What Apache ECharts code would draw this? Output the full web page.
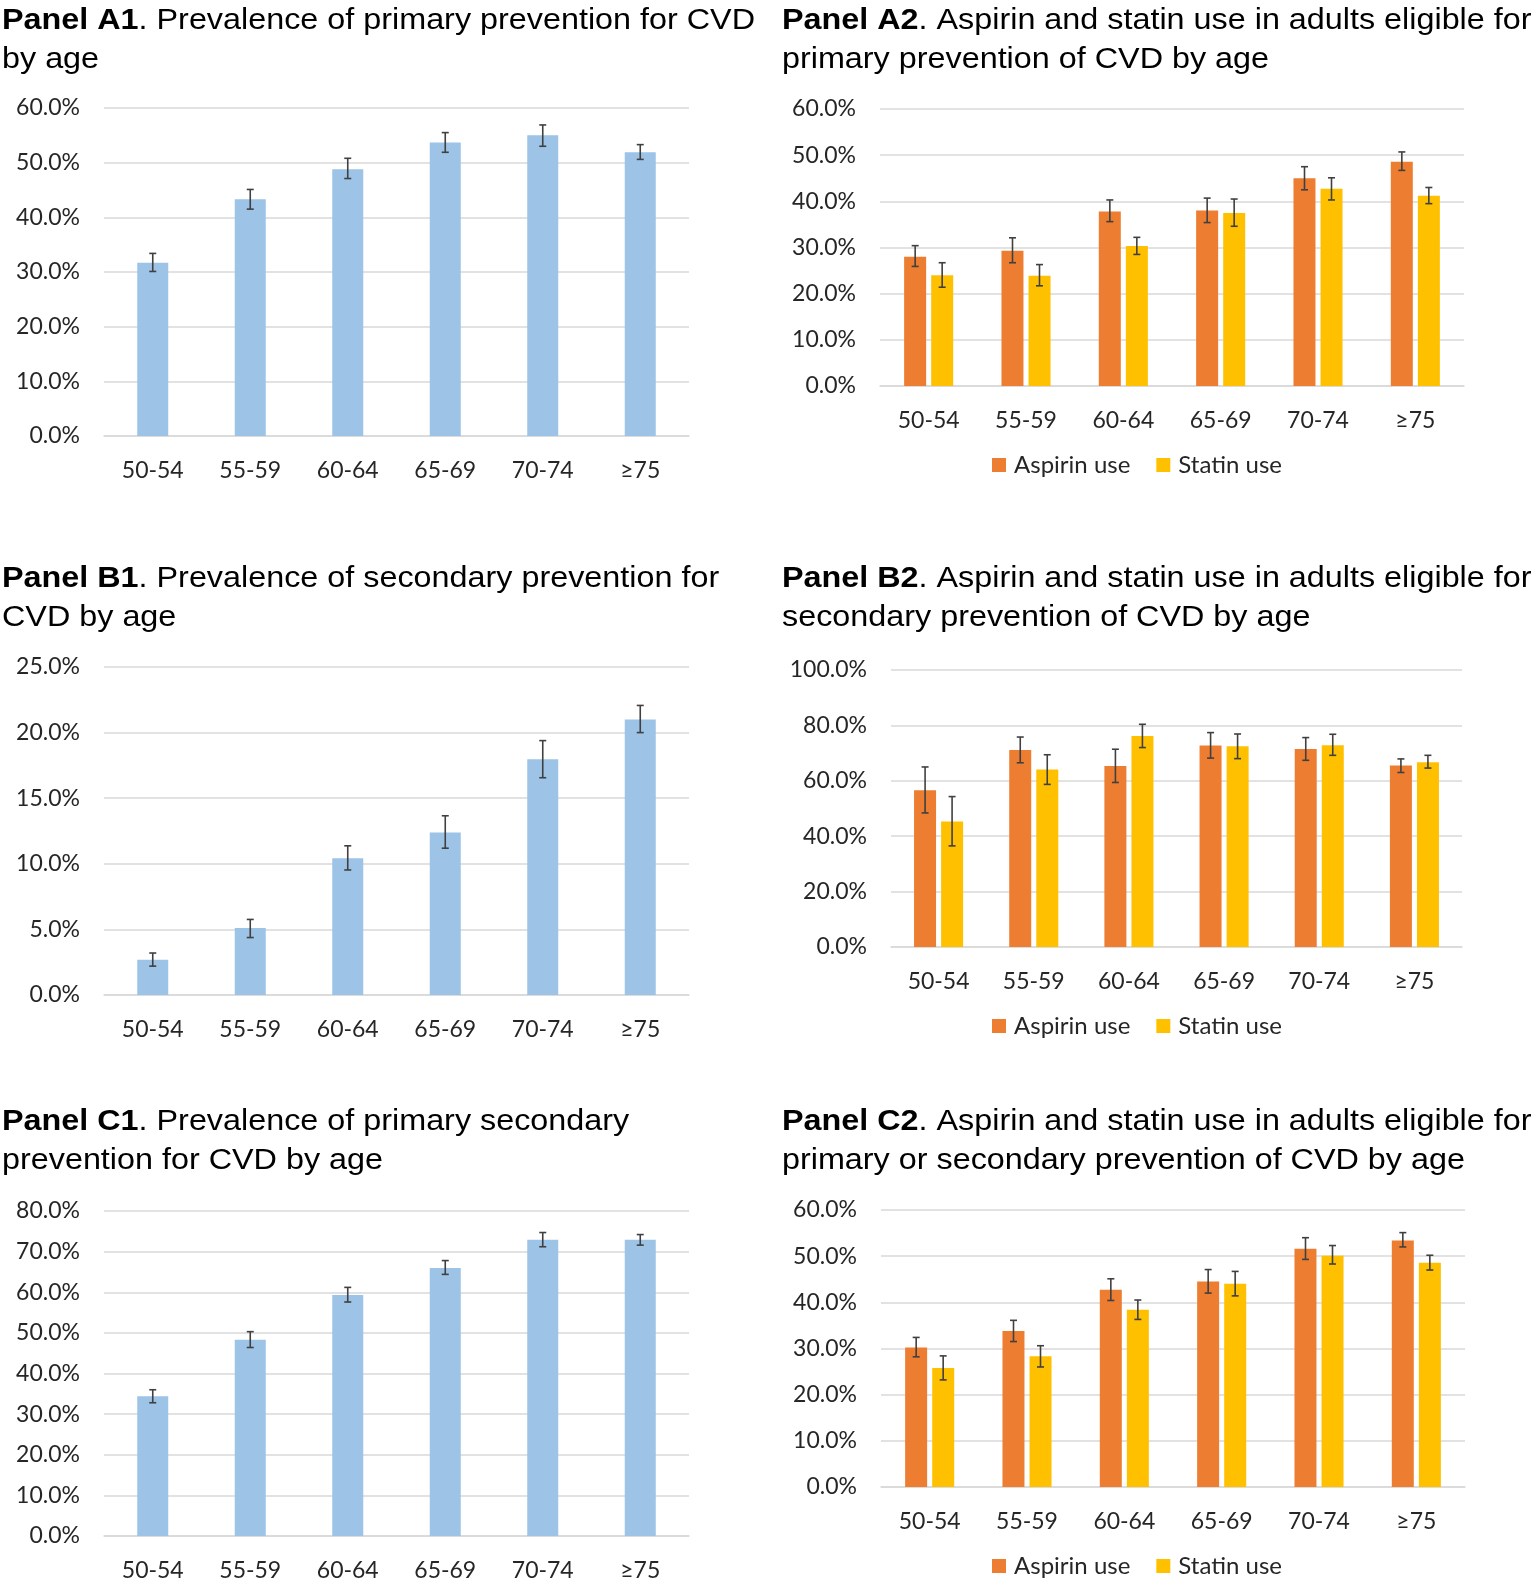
<!DOCTYPE html>
<html><head><meta charset="utf-8">
<script src="https://cdn.jsdelivr.net/npm/echarts@6/dist/echarts.min.js"></script>
<style>html,body{margin:0;padding:0;background:#fff}#c{width:1538px;height:1582px}</style>
</head><body><div id="c"></div>
<script>
const ages = ['50-54','55-59','60-64','65-69','70-74','≥75'];
// Panel A1
const a1Val = [31.7,43.3,48.8,53.7,55.0,51.9];
const a1Lo  = [30.1,41.5,47.1,51.9,53.0,50.6];
const a1Hi  = [33.4,45.1,50.8,55.5,56.9,53.3];
// Panel A2
const a2Asp = [28.0,29.3,37.8,38.0,45.0,48.6];
const a2AspLo = [25.9,26.7,35.6,35.4,42.5,46.7];
const a2AspHi = [30.4,32.1,40.3,40.7,47.5,50.7];
const a2Sta = [24.0,23.9,30.3,37.5,42.7,41.2];
const a2StaLo = [21.4,21.7,28.5,34.6,40.3,39.5];
const a2StaHi = [26.7,26.3,32.2,40.5,45.1,43.0];
// Panel B1
const b1Val = [2.68,5.1,10.42,12.39,17.97,21.0];
const b1Lo  = [2.2,4.38,9.53,11.19,16.56,20.0];
const b1Hi  = [3.2,5.76,11.37,13.66,19.39,22.07];
// Panel B2
const b2Asp = [56.6,71.1,65.3,72.7,71.5,65.5];
const b2AspLo = [48.4,66.5,59.4,68.2,67.4,63.0];
const b2AspHi = [65.0,75.8,71.4,77.4,75.6,67.9];
const b2Sta = [45.3,64.1,76.2,72.5,72.8,66.7];
const b2StaLo = [36.5,58.7,72.0,68.0,69.2,64.6];
const b2StaHi = [54.3,69.4,80.4,76.9,76.8,69.2];
// Panel C1
const c1Val = [34.4,48.3,59.3,66.0,72.9,72.9];
const c1Lo  = [32.8,46.4,57.6,64.4,71.2,71.6];
const c1Hi  = [36.0,50.3,61.2,67.8,74.7,74.2];
// Panel C2
const c2Asp = [30.2,33.8,42.7,44.5,51.6,53.4];
const c2AspLo = [28.2,31.5,40.4,42.0,49.3,52.0];
const c2AspHi = [32.4,36.1,45.1,47.1,54.0,55.1];
const c2Sta = [25.8,28.3,38.4,44.0,50.1,48.6];
const c2StaLo = [23.2,26.0,36.3,41.4,48.3,47.0];
const c2StaHi = [28.4,30.6,40.5,46.7,52.3,50.2];

const titleBold = ['Panel A1','Panel A2','Panel B1','Panel B2','Panel C1','Panel C2'];
const titleRest = [
  '. Prevalence of primary prevention for CVD\nby age',
  '. Aspirin and statin use in adults eligible for\nprimary prevention of CVD by age',
  '. Prevalence of secondary prevention for\nCVD by age',
  '. Aspirin and statin use in adults eligible for\nsecondary prevention of CVD by age',
  '. Prevalence of primary secondary\nprevention for CVD by age',
  '. Aspirin and statin use in adults eligible for\nprimary or secondary prevention of CVD by age'
];
const yMax = [60,60,25,100,80,60];
const yInt = [10,10,5,20,10,10];
const legendNames = ['Aspirin use','Statin use'];

const BLUE='#9dc3e6', ORANGE='#ed7d31', YELLOW='#ffc000', ERR='#404040', GRIDC='#d9d9d9';
const LBL = 'Lato, "Open Sans", sans-serif';
const TTL = '"Liberation Sans", Arial, sans-serif';
const LBLC = '#262626';

const grids = [
  {left:104, top:108, width:585, height:328},
  {left:880, top:109, width:584, height:277},
  {left:104, top:667, width:585, height:328},
  {left:891, top:670, width:571, height:277},
  {left:104, top:1211, width:585, height:327},
  {left:881, top:1210, width:584, height:277}
];
const titlePos = [[2,1],[782,1],[2,559],[782,559],[2,1102],[782,1102]];

const option = {
  backgroundColor:'#fff',
  animation:false,
  graphic: titleBold.map((b,i)=>({
    type:'text', x:titlePos[i][0], y:titlePos[i][1], scaleX:1.115, scaleY:1, silent:true,
    style:{
      text:'{b|'+b+'}'+titleRest[i],
      fontFamily:TTL, fontSize:29, fill:'#000', lineHeight:39,
      rich:{b:{fontFamily:TTL, fontSize:29, fontWeight:'bold', fill:'#000', lineHeight:39}}
    }
  })),
  grid: grids,
  legend: [[992,453],[992,1014],[992,1554]].map(p=>({
    data:legendNames, left:p[0], top:p[1], padding:0, itemWidth:14, itemHeight:14, itemGap:26,
    icon:'rect', textStyle:{fontFamily:LBL, fontSize:24, color:LBLC, padding:[0,0,0,3]}
  })),
  xAxis: grids.map((g,i)=>({
    type:'category', gridIndex:i, data:ages,
    axisLine:{show:true, lineStyle:{color:GRIDC, width:1.5}},
    axisTick:{show:false},
    axisLabel:{fontFamily:LBL, fontSize:23, color:LBLC, margin:23, interval:0}
  })),
  yAxis: grids.map((g,i)=>({
    type:'value', gridIndex:i, min:0, max:yMax[i], interval:yInt[i],
    axisLine:{show:false}, axisTick:{show:false},
    splitLine:{lineStyle:{color:GRIDC, width:1.5}},
    axisLabel:{fontFamily:LBL, fontSize:23, color:LBLC, margin:24, formatter:v=>v.toFixed(1)+'%'}
  })),
  series: []
};

function errSeries(idx, lo, hi, offset){
  return {
    type:'custom', xAxisIndex:idx, yAxisIndex:idx, z:10, silent:true,
    data: lo.map((l,k)=>[k,l,hi[k]]),
    encode:{x:0, y:[1,2]},
    renderItem:(params, api)=>{
      const x = api.value(0);
      const p1 = api.coord([x, api.value(2)]);
      const p2 = api.coord([x, api.value(1)]);
      const cx = p1[0] + offset, cap = 3.5;
      const st = {stroke:ERR, lineWidth:1.6};
      return {type:'group', children:[
        {type:'line', shape:{x1:cx, y1:p1[1], x2:cx, y2:p2[1]}, style:st},
        {type:'line', shape:{x1:cx-cap, y1:p1[1], x2:cx+cap, y2:p1[1]}, style:st},
        {type:'line', shape:{x1:cx-cap, y1:p2[1], x2:cx+cap, y2:p2[1]}, style:st}
      ]};
    }
  };
}
function single(idx, vals, lo, hi){
  option.series.push({type:'bar', name:'Prevalence', xAxisIndex:idx, yAxisIndex:idx,
    data:vals, barWidth:31, itemStyle:{color:BLUE}});
  option.series.push(errSeries(idx, lo, hi, 0));
}
function pair(idx, asp, aLo, aHi, sta, sLo, sHi){
  option.series.push({type:'bar', name:'Aspirin use', xAxisIndex:idx, yAxisIndex:idx,
    data:asp, barWidth:22, barGap:'23%', itemStyle:{color:ORANGE}});
  option.series.push({type:'bar', name:'Statin use', xAxisIndex:idx, yAxisIndex:idx,
    data:sta, barWidth:22, barGap:'23%', itemStyle:{color:YELLOW}});
  option.series.push(errSeries(idx, aLo, aHi, -13.5));
  option.series.push(errSeries(idx, sLo, sHi, 13.5));
}
single(0, a1Val, a1Lo, a1Hi);
pair(1, a2Asp, a2AspLo, a2AspHi, a2Sta, a2StaLo, a2StaHi);
single(2, b1Val, b1Lo, b1Hi);
pair(3, b2Asp, b2AspLo, b2AspHi, b2Sta, b2StaLo, b2StaHi);
single(4, c1Val, c1Lo, c1Hi);
pair(5, c2Asp, c2AspLo, c2AspHi, c2Sta, c2StaLo, c2StaHi);

const chart = echarts.init(document.getElementById('c'), null, {renderer:'canvas'});
chart.setOption(option);
</script></body></html>
